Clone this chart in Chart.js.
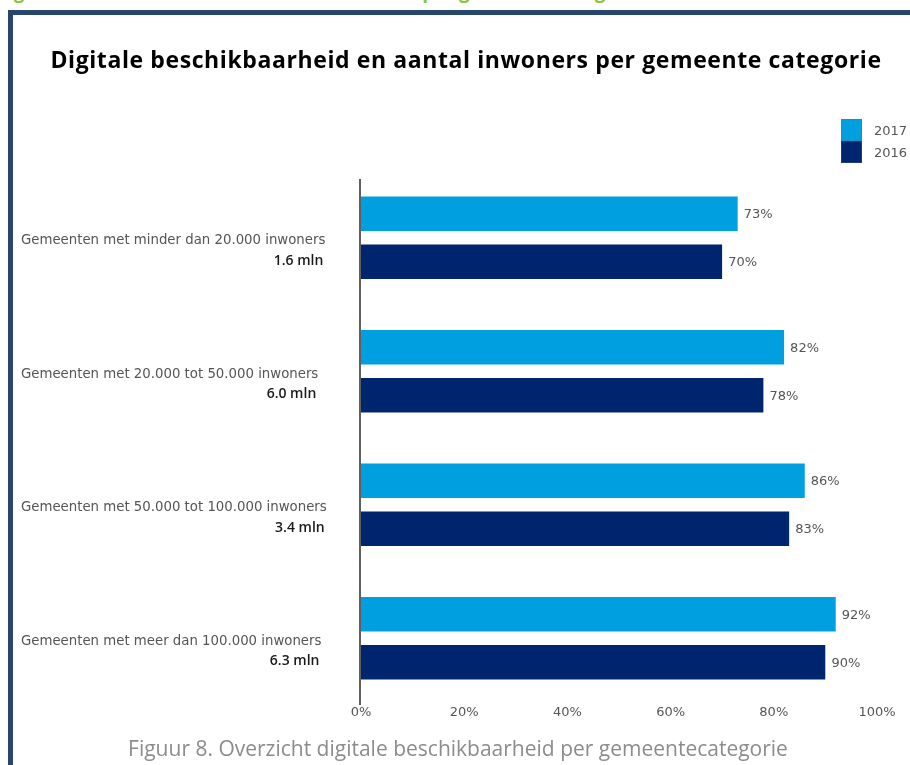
<!DOCTYPE html>
<html>
<head>
<meta charset="utf-8">
<script src="https://cdn.jsdelivr.net/npm/chart.js@4.4.1/dist/chart.umd.min.js"></script>
<style>
  html, body { margin: 0; padding: 0; background: #fff; }
  body { width: 910px; height: 765px; position: relative; overflow: hidden; }
  #heading { position: absolute; left: -6px; top: -22px; font: bold 19px "Open Sans"; color: #8cc63f; white-space: nowrap; }
  #frame { position: absolute; left: 8px; top: 10px; width: 920px; height: 780px; border-left: 5px solid #27466b; border-top: 5px solid #27466b; }
  #title { position: absolute; left: 0; width: 932px; top: 48px; text-align: center; font: bold 23px "Open Sans"; line-height: 23px; letter-spacing: 0.6px; color: #000; white-space: nowrap; }
  #caption { position: absolute; left: 0; width: 916px; top: 738px; text-align: center; font: 21px "Open Sans"; line-height: 21px; color: #8c8c8c; white-space: nowrap; }
  #legend { position: absolute; left: 841px; top: 119px; }
  .item { display: flex; align-items: center; height: 22px; }
  .swatch { width: 21px; height: 22px; box-sizing: border-box; border: 1px solid rgba(90, 110, 140, 0.35); }
  .item span { margin-left: 12px; font: 13px "DejaVu Sans"; color: #555; }
  canvas { position: absolute; left: 0; top: 0; }
</style>
</head>
<body>
<div id="heading">Digitale beschikbaarheid en aantal inwoners per gemeentecategorie</div>
<div id="frame"></div>
<canvas id="chart" width="910" height="765"></canvas>
<div id="title">Digitale beschikbaarheid en aantal inwoners per gemeente categorie</div>
<div id="legend"></div>
<div id="caption">Figuur 8. Overzicht digitale beschikbaarheid per gemeentecategorie</div>
<script>
// categories (top to bottom) and their population
const categories = [
    'Gemeenten met minder dan 20.000 inwoners',
    'Gemeenten met 20.000 tot 50.000 inwoners',
    'Gemeenten met 50.000 tot 100.000 inwoners',
    'Gemeenten met meer dan 100.000 inwoners'
];
const inhabitants = ['1.6 mln', '6.0 mln', '3.4 mln', '6.3 mln'];

const years = ['2017', '2016'];
const values2017 = [73, 82, 86, 92];
const values2016 = [70, 78, 83, 90];
const xTicks = [0, 20, 40, 60, 80, 100];

const colors = ['#009fdf', '#00256f'];

// legend as html
const legendEl = document.getElementById('legend');
years.forEach((year, i) => {
    legendEl.innerHTML += `<div class="item"><div class="swatch" style="background:${colors[i]}"></div><span>${year}</span></div>`;
});

// draws the y axis line, the two-line category labels and the value labels
const labelPlugin = {
    id: 'labels',
    afterDatasetsDraw(chart) {
        const ctx = chart.ctx;
        const area = chart.chartArea;
        const xScale = chart.scales.x;
        const yScale = chart.scales.y;

        ctx.save();

        // vertical axis line
        const x0 = xScale.getPixelForValue(0) - 1;
        ctx.strokeStyle = '#5f5f5f';
        ctx.lineWidth = 2;
        ctx.beginPath();
        ctx.moveTo(x0, area.top + 8);
        ctx.lineTo(x0, area.bottom);
        ctx.stroke();

        // category labels
        ctx.textBaseline = 'middle';
        categories.forEach((cat, i) => {
            const y = yScale.getPixelForValue(i);
            ctx.font = '13.3px "DejaVu Sans"';
            ctx.fillStyle = '#555';
            ctx.textAlign = 'left';
            ctx.fillText(cat, 21, y + 3);
            const w = ctx.measureText(cat).width;

            ctx.font = '600 14px "Open Sans"';
            ctx.fillStyle = '#1a1a1a';
            ctx.textAlign = 'right';
            ctx.fillText(inhabitants[i], 21 + w - 2, y + 23);
        });

        // value labels next to the bars
        ctx.font = '13px "DejaVu Sans"';
        ctx.fillStyle = '#555';
        ctx.textAlign = 'left';
        chart.data.datasets.forEach((ds, di) => {
            chart.getDatasetMeta(di).data.forEach((bar, i) => {
                ctx.fillText(ds.data[i] + '%', bar.x + 6, bar.y + 1);
            });
        });

        ctx.restore();
    }
};

const ctx = document.getElementById('chart').getContext('2d');

new Chart(ctx, {
    type: 'bar',
    data: {
        labels: categories,
        datasets: [
            {
                label: years[0],
                data: values2017,
                backgroundColor: colors[0],
                borderColor: 'rgba(0,0,0,0)',
                borderWidth: { top: 7, bottom: 7, left: 0, right: 0 },
                borderSkipped: false,
                barThickness: 48
            },
            {
                label: years[1],
                data: values2016,
                backgroundColor: colors[1],
                borderColor: 'rgba(0,0,0,0)',
                borderWidth: { top: 7, bottom: 7, left: 0, right: 0 },
                borderSkipped: false,
                barThickness: 48
            }
        ]
    },
    options: {
        indexAxis: 'y',
        responsive: false,
        animation: false,
        layout: {
            padding: { left: 361, right: 33, top: 171, bottom: 40 }
        },
        plugins: {
            legend: { display: false },
            tooltip: { enabled: false }
        },
        scales: {
            x: {
                min: 0,
                max: 100,
                grid: { display: false, drawTicks: false },
                border: { display: false },
                afterBuildTicks: scale => {
                    scale.ticks = xTicks.map(v => ({ value: v }));
                },
                afterFit: scale => {
                    scale.height = 20;
                },
                ticks: {
                    padding: 0,
                    color: '#555',
                    font: { family: 'DejaVu Sans', size: 13 },
                    callback: v => v + '%'
                }
            },
            y: {
                display: false
            }
        }
    },
    plugins: [labelPlugin]
});
</script>
</body>
</html>
